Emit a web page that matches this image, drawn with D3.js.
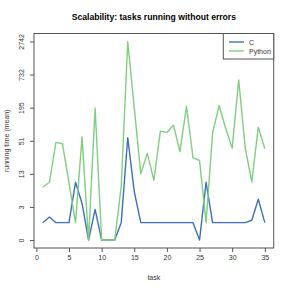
<!DOCTYPE html>
<html><head><meta charset="utf-8">
<script src="https://cdn.jsdelivr.net/npm/d3@7"></script>
<style>html,body{margin:0;padding:0;background:#fff}svg{display:block}</style>
</head><body>
<script>
// ---- data ----
const tasks = d3.range(1, 36);
const cValues = [1, 1.5, 1, 1, 1, 9, 3.3, 0, 2.4, 0, 0, 0, 1, 58, 5.9,
  1, 1, 1, 1, 1, 1, 1, 1, 1, 0, 9, 1, 1, 1, 1, 1, 1, 1.2, 4.1, 1];
const pyValues = [7.2, 9, 48, 45.5, 8.7, 1, 60, 0, 193, 0, 0, 0, 7.4, 2742, 193,
  13, 31, 9.8, 76, 72, 96, 33, 206, 25.6, 23, 1, 71, 212, 85, 38, 590, 38, 9.2, 89, 37];
const xTicks = [0, 5, 10, 15, 20, 25, 30, 35];
const yTickLabels = ["0", "3", "13", "51", "195", "732", "2742"];
const seriesNames = ["C", "Python"];
const seriesColors = ["#3d6fc0", "#7fcf7f"];

const W = 291, H = 291;
const svg = d3.select("body").append("svg").attr("width", W).attr("height", H);
const font = "Liberation Sans, Arial, Helvetica, sans-serif";

// plot region
const L = 34, R = 273.7, T = 33.5, B = 248;

// x scale (R-style 4% extension)
const xr = d3.extent(tasks), xpad = (xr[1] - xr[0]) * 0.04;
const x = d3.scaleLinear().domain([xr[0] - xpad, xr[1] + xpad]).range([L, R]);

// y scale: log(1+v) via symlog
const ymaxT = Math.log1p(d3.max([...cValues, ...pyValues]));
const ypadT = ymaxT * 0.04;
const y = d3.scaleSymlog().constant(1)
  .domain([-Math.expm1(ypadT), Math.expm1(ymaxT + ypadT)]).range([B, T]);
const yTickAt = yTickLabels.map((d, i) => Math.expm1(i / (yTickLabels.length - 1) * ymaxT));

// title
svg.append("text").attr("x", (L + R) / 2).attr("y", 19.5).attr("text-anchor", "middle")
  .attr("font-family", font).attr("font-weight", "bold").attr("font-size", 8.6)
  .text("Scalability: tasks running without errors");

// lines
const line = d3.line().x((d, i) => x(tasks[i])).y(d => y(d));
[cValues, pyValues].forEach((vals, k) => {
  svg.append("path").datum(vals).attr("d", line).attr("fill", "none")
    .attr("stroke", seriesColors[k]).attr("stroke-width", 1.4).attr("stroke-linejoin", "round");
});

// box
svg.append("rect").attr("x", L).attr("y", T).attr("width", R - L).attr("height", B - T)
  .attr("fill", "none").attr("stroke", "#555").attr("stroke-width", 1);

// x axis
const xAxis = svg.append("g").attr("transform", `translate(0,${B})`)
  .call(d3.axisBottom(x).tickValues(xTicks).tickSize(4).tickPadding(3).tickSizeOuter(0));
xAxis.select(".domain").remove();
xAxis.selectAll("line").attr("stroke", "#555");
xAxis.selectAll("text").attr("font-family", font).attr("font-size", 7).attr("fill", "#333");

// y axis
const yAxis = svg.append("g").attr("transform", `translate(${L},0)`)
  .call(d3.axisLeft(y).tickValues(yTickAt).tickFormat((d, i) => yTickLabels[i]).tickSize(4).tickSizeOuter(0));
yAxis.select(".domain").remove();
yAxis.selectAll("line").attr("stroke", "#555");
yAxis.selectAll("text").attr("font-family", font).attr("font-size", 7).attr("fill", "#333")
  .attr("text-anchor", "middle").attr("dy", null).attr("x", null)
  .attr("transform", "translate(-10.5,0) rotate(-90)");

// axis titles
svg.append("text").attr("x", (L + R) / 2).attr("y", 280).attr("text-anchor", "middle")
  .attr("font-family", font).attr("font-size", 7).attr("fill", "#333").text("task");
svg.append("text").attr("transform", `translate(9,${(T + B) / 2}) rotate(-90)`).attr("text-anchor", "middle")
  .attr("font-family", font).attr("font-size", 7).attr("fill", "#333").text("running time (mean)");

// legend
const lg = svg.append("g");
lg.append("rect").attr("x", 223.3).attr("y", T).attr("width", R - 223.3).attr("height", 25.5)
  .attr("fill", "#fff").attr("stroke", "#555").attr("stroke-width", 1);
seriesNames.forEach((n, k) => {
  const yy = 42 + k * 9;
  lg.append("line").attr("x1", 229).attr("x2", 244).attr("y1", yy).attr("y2", yy)
    .attr("stroke", seriesColors[k]).attr("stroke-width", 1.4);
  lg.append("text").attr("x", 249).attr("y", yy + 2.5).attr("font-family", font)
    .attr("font-size", 7).attr("fill", "#333").text(n);
});
</script>
</body></html>
